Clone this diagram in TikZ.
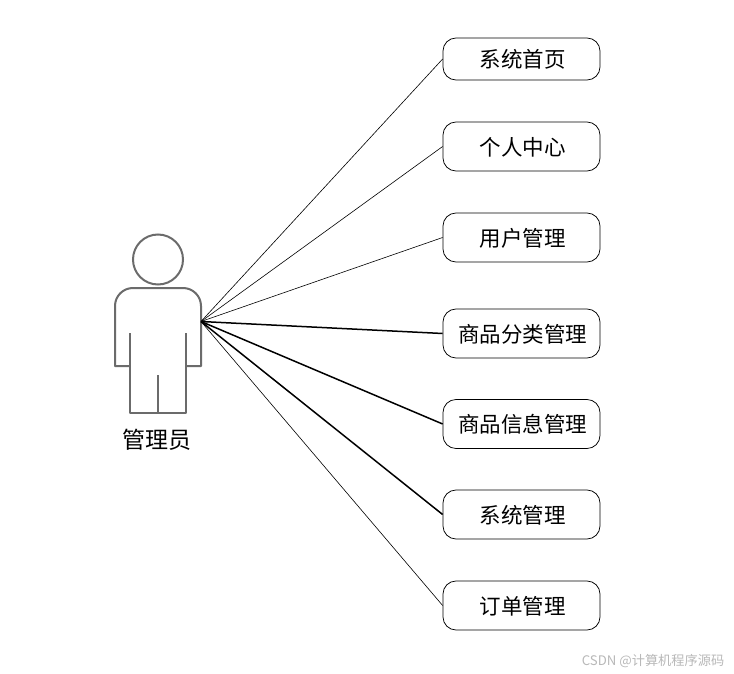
\documentclass[tikz,border=0pt]{standalone}
\usepackage{fontspec}
\newfontfamily\cjk{Noto Sans CJK SC}
\begin{document}
\begin{tikzpicture}[x=1pt, y=-1pt]
	\tikzset{usecase/.style={draw=black, rounded corners=13pt, line width=0.75pt, minimum width=157pt, minimum height=49pt, inner sep=0, text depth=1pt, execute at begin node=\hspace*{2pt}, font=\cjk\fontsize{21.5pt}{24pt}\selectfont}}
	\tikzset{actor/.style={draw=black!58, line width=2pt}}
	\tikzset{thin link/.style={draw=black, line width=0.6pt}}
	\tikzset{thick link/.style={draw=black, line width=1.5pt}}
	\useasboundingbox (0, 0) rectangle (734, 674);
	\node[usecase, minimum height=42pt] at (521.5, 59) (home) {系统首页};
	\node[usecase] at (521.5, 146.5) (center) {个人中心};
	\node[usecase] at (521.5, 237.5) (user) {用户管理};
	\node[usecase] at (521.5, 333.5) (category) {商品分类管理};
	\node[usecase] at (521.5, 424) (goods) {商品信息管理};
	\node[usecase] at (521.5, 514.5) (system) {系统管理};
	\node[usecase] at (521.5, 605.5) (order) {订单管理};
	% actor
	\node[actor, circle, inner sep=0, minimum size=50pt] at (158, 259.5) (head) {};
	\draw[actor, line join=round] (130, 366) -- (115, 366) -- (115, 306) arc (180:270:18) -- (183, 288) arc (270:360:18) -- (201, 366) -- (186, 366);
	\draw[actor, line join=round] (130, 333) -- (130, 413) -- (186, 413) -- (186, 333);
	\draw[actor] (158, 375) -- (158, 413);
	\node[font=\cjk\fontsize{23pt}{25pt}\selectfont, inner sep=0] at (157, 440) (admin) {管理员};
	\coordinate (hub) at (201, 321.5);
	% links
	\path[thin link] (hub) edge (home.west);
	\path[thin link] (hub) edge (center.west);
	\path[thin link] (hub) edge (user.west);
	\path[thick link] (hub) edge (category.west);
	\path[thick link] (hub) edge (goods.west);
	\path[thick link] (hub) edge (system.west);
	\path[thin link] (hub) edge (order.west);
	\node[font=\cjk\fontsize{13.2pt}{15pt}\selectfont, text=black!28, inner sep=0] at (653, 661) (mark) {CSDN @计算机程序源码};
\end{tikzpicture}
\end{document}
